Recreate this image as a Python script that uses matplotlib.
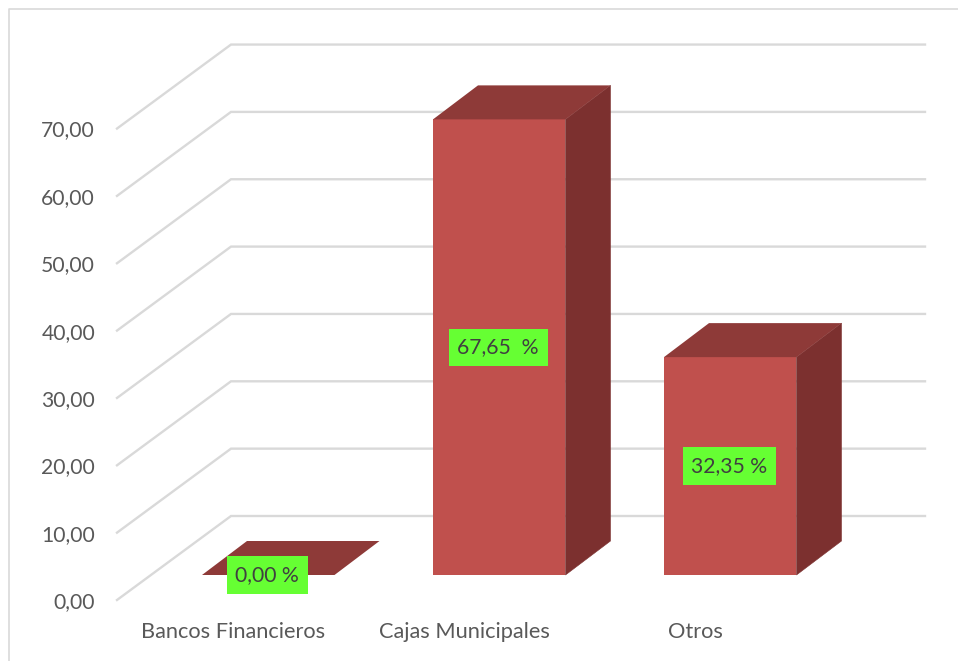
import matplotlib
matplotlib.use('Agg')
import matplotlib.pyplot as plt
from matplotlib.patches import Polygon, Rectangle

categories = ['Bancos Financieros', 'Cajas Municipales', 'Otros']
values = [0.00, 67.65, 32.35]
value_labels = ['0,00 %', '67,65  %', '32,35 %']
y_ticks = [0, 10, 20, 30, 40, 50, 60, 70]
y_tick_labels = ['0,00', '10,00', '20,00', '30,00', '40,00', '50,00', '60,00', '70,00']

GRID = '#D9D9D9'
TEXT = '#595959'
FRONT = '#C0504D'
TOP = '#8E3A38'
SIDE = '#7C302F'
BOX = '#66FF33'

PX_PER_UNIT = 6.735  # vertical scale of the chart in pixels per value unit
Y0_PX = 600  # pixel row of value 0 on the front edge of the floor


def depth(dy_px):
    return dy_px / PX_PER_UNIT


plt.rcParams['font.family'] = ['Lato', 'DejaVu Sans']

fig = plt.figure(figsize=(9.58, 6.61), dpi=100)
ax = fig.add_axes([0, 0, 1, 1])
# x axis stays in pixels, y axis is in chart values
ax.set_xlim(0, 958)
ax.set_ylim(-(661 - Y0_PX) / PX_PER_UNIT, Y0_PX / PX_PER_UNIT)
ax.axis('off')

# outer chart border: only left and top show in the picture
ax.plot([9.5, 9.5, 958], [depth(Y0_PX - 661), depth(Y0_PX - 8.5), depth(Y0_PX - 8.5)], color=GRID, linewidth=1.2)

# gridlines: slanted side wall, then back wall
for tick, label in zip(y_ticks, y_tick_labels):
    ax.plot([117, 231, 925], [tick, tick + depth(84), tick + depth(84)], color=GRID, linewidth=1.7,
            solid_joinstyle='miter', zorder=1)
    ax.text(95, tick - depth(2), label, fontsize=15.2, color=TEXT, ha='right', va='center')

# bars
bar_width = 132.5
bar_dx = 45
bar_dy = depth(34)
base = depth(25)
for i, (cat, val, lab) in enumerate(zip(categories, values, value_labels)):
    x0 = 202 + 231 * i
    x1 = x0 + bar_width
    top = base + val
    if val > 0:
        # side goes first with a thin edge so no white seam shows next to the front face
        ax.add_patch(Polygon([(x1, base), (x1 + bar_dx, base + bar_dy), (x1 + bar_dx, top + bar_dy), (x1, top)],
                             facecolor=SIDE, edgecolor=SIDE, linewidth=0.4, zorder=3))
        ax.add_patch(Rectangle((x0, base), bar_width, val, facecolor=FRONT, edgecolor='none', zorder=3))
    ax.add_patch(Polygon([(x0, top), (x1, top), (x1 + bar_dx, top + bar_dy), (x0 + bar_dx, top + bar_dy)],
                         facecolor=TOP, edgecolor='none', zorder=3))

    # value label in a green box, centred on the front face
    ax.text(x0 + bar_width / 2 - 1, base + val / 2, lab, fontsize=15.2, color='#404040', ha='center',
            va='center', bbox=dict(facecolor=BOX, edgecolor='none', pad=6.2), zorder=4)

    ax.text(x0 + bar_width / 2 - 35, depth(Y0_PX - 632), cat, fontsize=15.7, color=TEXT, ha='center', va='center')

fig.savefig('out.png', dpi=100)
